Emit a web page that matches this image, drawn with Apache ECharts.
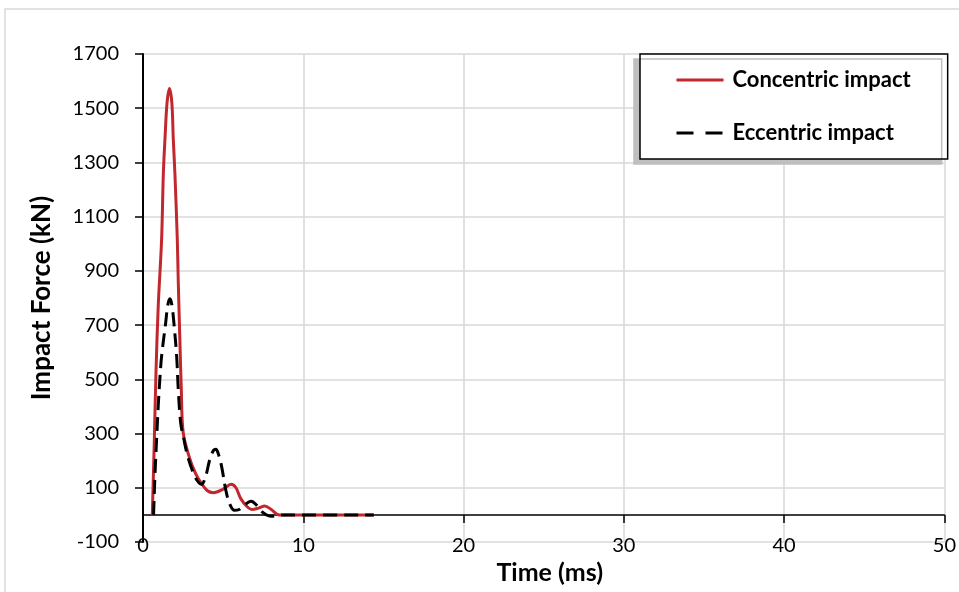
<!DOCTYPE html>
<html>
<head>
<meta charset="utf-8">
<script src="https://cdn.jsdelivr.net/npm/echarts@6/dist/echarts.min.js"></script>
<style>
  html, body { margin: 0; padding: 0; background: #fff; }
  #chart { width: 959px; height: 592px; }
</style>
</head>
<body>
<div id="chart"></div>
<script>
// concentric impact (red, solid)
const concTime  = [0.58, 0.7, 0.81, 0.95, 1.16, 1.27, 1.37, 1.5, 1.65, 1.8, 1.89, 1.99, 2.14, 2.2, 2.3, 2.39, 2.51, 2.93, 3.3, 3.55, 4.0, 4.4, 5.0, 5.5, 5.8, 6.1, 6.5, 6.8, 7.2, 7.6, 8.0, 8.5, 14.4];
const concForce = [0, 260, 525, 770, 1015, 1260, 1385, 1520, 1573, 1520, 1385, 1260, 1015, 860, 647, 463, 303, 205, 150, 125, 90, 82, 95, 113, 100, 60, 30, 20, 25, 33, 20, 0, 0];

// eccentric impact (black, dashed)
const eccTime  = [0.66, 0.75, 0.85, 0.95, 1.05, 1.16, 1.41, 1.55, 1.68, 1.8, 1.93, 2.1, 2.2, 2.35, 2.55, 2.78, 3.13, 3.4, 3.65, 3.9, 4.17, 4.4, 4.55, 4.7, 4.9, 5.2, 5.45, 5.7, 6.0, 6.3, 6.75, 7.1, 7.5, 8.0, 8.4, 8.8, 14.4];
const eccForce = [0, 152, 279, 401, 500, 585, 706, 775, 797, 775, 706, 585, 463, 340, 279, 218, 156, 125, 113, 140, 205, 238, 242, 225, 180, 82, 35, 17, 20, 35, 50, 35, 8, -5, -2, 0, 0];

const xTicks = [0, 10, 20, 30, 40, 50];
const yTicks = [-100, 100, 300, 500, 700, 900, 1100, 1300, 1500, 1700];

const FONT = 'Lato';
const pairs = (xs, ys) => xs.map((x, i) => [x, ys[i]]);

const chart = echarts.init(document.getElementById('chart'));
chart.setOption({
  animation: false,
  backgroundColor: '#fff',
  textStyle: { fontFamily: FONT },
  graphic: [{
    type: 'rect',
    shape: { x: 5, y: 9, width: 970, height: 600 },
    style: { fill: 'none', stroke: '#d9d9d9', lineWidth: 1.5 },
    silent: true
  }],
  grid: { left: 143, right: 13, top: 54, bottom: 50 },
  legend: {
    orient: 'vertical',
    left: 640,
    top: 54,
    padding: [15, 37, 15, 35],
    itemGap: 31,
    itemWidth: 47,
    itemHeight: 22,
    backgroundColor: '#fff',
    borderColor: '#000',
    borderWidth: 1.5,
    borderRadius: 0,
    shadowColor: '#bfbfbf',
    shadowBlur: 0,
    shadowOffsetX: -6,
    shadowOffsetY: 5,
    itemStyle: { opacity: 0 },
    lineStyle: { width: 3 },
    textStyle: { fontFamily: FONT, fontWeight: 'bold', fontSize: 22, color: '#000', padding: [0, 0, 0, 4] },
    data: [
      { name: 'Concentric impact' },
      { name: 'Eccentric impact', lineStyle: { type: [17, 12], width: 3 } }
    ]
  },
  xAxis: [{
    type: 'value',
    min: xTicks[0],
    max: xTicks[xTicks.length - 1],
    interval: 10,
    name: 'Time (ms)',
    nameLocation: 'middle',
    nameGap: 18,
    nameTextStyle: { fontFamily: FONT, fontWeight: 'bold', fontSize: 25, color: '#000', padding: [0, 0, 0, 12] },
    axisLine: { show: false, onZero: false },
    axisTick: { show: false },
    axisLabel: { fontFamily: FONT, fontSize: 20, color: '#000', margin: -6 },
    splitLine: { show: true, lineStyle: { color: '#d9d9d9', width: 1.5 } }
  }, {
    type: 'value',
    min: xTicks[0],
    max: xTicks[xTicks.length - 1],
    interval: 10,
    position: 'bottom',
    axisLine: { show: true, onZero: true, lineStyle: { color: '#000', width: 1.5 } },
    axisTick: { show: true, length: 8, lineStyle: { color: '#000', width: 1.5 } },
    axisLabel: { show: false },
    splitLine: { show: false }
  }],
  yAxis: {
    type: 'value',
    min: yTicks[0],
    max: yTicks[yTicks.length - 1],
    interval: 200,
    name: 'Impact Force (kN)',
    nameLocation: 'middle',
    nameGap: 88,
    nameTextStyle: { fontFamily: FONT, fontWeight: 'bold', fontSize: 26, color: '#000' },
    axisLine: { show: true, onZero: false, lineStyle: { color: '#000', width: 2 } },
    axisTick: { show: true, length: 8, lineStyle: { color: '#000', width: 1.5 } },
    axisLabel: { fontFamily: FONT, fontSize: 20, color: '#000', margin: 24, formatter: v => String(v) },
    splitLine: { show: true, lineStyle: { color: '#d9d9d9', width: 1.5 } }
  },
  series: [{
    name: 'Concentric impact',
    type: 'line',
    xAxisIndex: 0,
    data: pairs(concTime, concForce),
    smooth: 0.35,
    symbol: 'none',
    z: 3,
    itemStyle: { color: '#c1272d' },
    lineStyle: { color: '#c1272d', width: 3 }
  }, {
    name: 'Eccentric impact',
    type: 'line',
    xAxisIndex: 0,
    data: pairs(eccTime, eccForce),
    smooth: 0.35,
    symbol: 'none',
    z: 4,
    itemStyle: { color: '#000' },
    lineStyle: { color: '#000', width: 3, type: [14, 7] }
  }]
});
</script>
</body>
</html>
